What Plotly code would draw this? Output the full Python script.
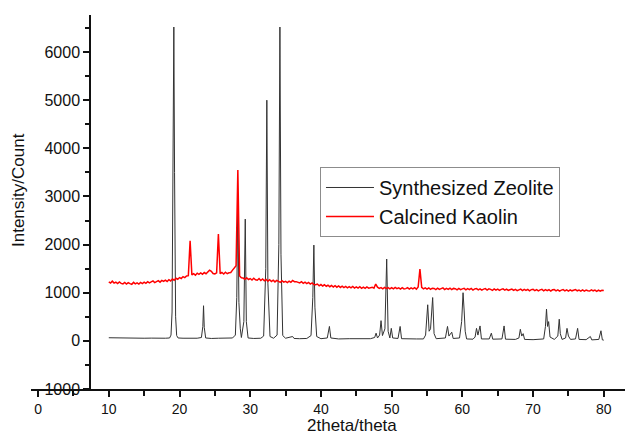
import plotly.graph_objects as go

# ---- Synthesized Zeolite (black) : 2theta and intensity ----
zeolite_x = [10.0, 11.0, 12.0, 13.0, 14.0, 15.0, 16.0, 17.0, 18.0, 18.6, 18.8, 18.95, 19.1, 19.2, 19.3, 19.45, 19.6, 19.8,
             20.5, 21.5, 22.5, 23.1, 23.3, 23.4, 23.5, 23.7, 24.5, 25.5, 26.5, 27.5, 27.9, 28.1, 28.25, 28.4, 28.6, 28.75,
             29.1, 29.3, 29.45, 29.7, 30.5, 31.5, 31.9, 32.2, 32.35, 32.5, 32.8, 33.3, 33.8, 34.05, 34.2, 34.35, 34.6,
             35.0, 36.0, 36.2, 37.0, 38.0, 38.6, 38.85, 39.0, 39.15, 39.4, 40.0, 40.9, 41.2, 41.4, 42.5, 44.0, 45.5,
             47.0, 47.6, 47.8, 48.0, 48.3, 48.5, 48.7, 49.05, 49.3, 49.5, 49.75, 49.95, 50.15, 50.9, 51.2, 51.4, 52.5,
             53.5, 54.5, 54.8, 55.1, 55.3, 55.5, 55.8, 56.0, 56.3, 57.6, 57.9, 58.1, 58.3, 58.5, 58.7, 59.6, 59.9, 60.1,
             60.25, 60.4, 60.6, 61.5, 61.8, 62.0, 62.2, 62.5, 62.7, 63.8, 64.1, 64.3, 65.6, 65.9, 66.1, 67.5, 68.0,
             68.2, 68.4, 68.6, 68.8, 70.0, 71.5, 71.75, 71.9, 72.05, 72.2, 72.4, 73.0, 73.5, 73.7, 73.85, 74.1, 74.6,
             74.8, 75.0, 75.3, 76.0, 76.3, 76.5, 77.5, 78.1, 78.3, 79.3, 79.6, 79.8, 80.0]
zeolite_y = [65, 60, 62, 58, 60, 55, 57, 52, 55, 60, 120, 600, 4000, 6520, 3500, 500, 110, 60,
             55, 50, 55, 70, 300, 730, 280, 60, 50, 55, 50, 60, 120, 900, 2950, 800, 250, 70,
             400, 2530, 400, 60, 50, 55, 100, 1500, 5000, 1200, 90, 55, 120, 2000, 6520, 1800, 110,
             55, 90, 50, 45, 50, 110, 900, 1990, 700, 90, 45, 60, 300, 60, 40, 45, 40,
             45, 70, 160, 60, 120, 420, 110, 250, 1700, 200, 60, 260, 60, 50, 300, 45, 35,
             40, 40, 120, 750, 200, 250, 900, 150, 45, 60, 300, 100, 130, 180, 50, 60, 400, 1000,
             640, 200, 40, 35, 80, 260, 120, 310, 40, 40, 160, 35, 40, 310, 35, 30, 60,
             240, 100, 150, 30, 25, 40, 300, 660, 300, 400, 80, 30, 100, 450, 150, 30, 60,
             260, 100, 30, 40, 260, 30, 25, 90, 20, 30, 210, 20, 15]

# ---- Calcined Kaolin (red) : scan from 10 to 80 deg, 0.25 deg steps ----
kaolin_start = 10.0
kaolin_step = 0.25
kaolin_y = [
    1225, 1200, 1240, 1200,  # 10
    1220, 1190, 1225, 1195,  # 11
    1185, 1215, 1180, 1210,  # 12
    1190, 1175, 1215, 1185,  # 13
    1205, 1180, 1215, 1190,  # 14
    1220, 1195, 1230, 1205,  # 15
    1225, 1245, 1210, 1240,  # 16
    1250, 1220, 1255, 1235,  # 17
    1260, 1235, 1270, 1245,  # 18
    1285, 1260, 1300, 1280,  # 19
    1315, 1295, 1335, 1315,  # 20
    1350, 1355, 2080, 1370,  # 21
    1395, 1365, 1405, 1380,  # 22
    1410, 1385, 1420, 1395,  # 23
    1425, 1470, 1445, 1400,  # 24
    1390, 1415, 2220, 1395,  # 25
    1420, 1390, 1425, 1395,  # 26
    1415, 1420, 1470, 1520,  # 27
    1560, 3550, 1350, 1310,  # 28
    1305, 1280, 1310, 1275,  # 29
    1295, 1265, 1300, 1270,  # 30
    1260, 1295, 1255, 1285,  # 31
    1250, 1275, 1240, 1270,  # 32
    1235, 1260, 1225, 1255,  # 33
    1240, 1215, 1250, 1220,  # 34
    1235, 1210, 1240, 1215,  # 35
    1255, 1230, 1230, 1210,  # 36
    1205, 1230, 1195, 1220,  # 37
    1190, 1215, 1180, 1205,  # 38
    1170, 1165, 1180, 1145,  # 39
    1170, 1140, 1165, 1135,  # 40
    1155, 1125, 1150, 1120,  # 41
    1145, 1115, 1140, 1110,  # 42
    1135, 1105, 1130, 1100,  # 43
    1125, 1100, 1130, 1095,  # 44
    1120, 1095, 1125, 1090,  # 45
    1115, 1090, 1120, 1095,  # 46
    1110, 1115, 1095, 1180,  # 47
    1115, 1090, 1105, 1080,  # 48
    1110, 1085, 1105, 1080,  # 49
    1105, 1080, 1110, 1085,  # 50
    1100, 1075, 1105, 1080,  # 51
    1085, 1105, 1075, 1100,  # 52
    1080, 1105, 1075, 1120,  # 53
    1490, 1110, 1080, 1100,  # 54
    1075, 1100, 1070, 1095,  # 55
    1090, 1065, 1095, 1070,  # 56
    1085, 1100, 1065, 1090,  # 57
    1070, 1095, 1065, 1090,  # 58
    1085, 1060, 1090, 1065,  # 59
    1080, 1090, 1060, 1085,  # 60
    1065, 1090, 1055, 1080,  # 61
    1085, 1060, 1080, 1055,  # 62
    1075, 1085, 1055, 1080,  # 63
    1070, 1050, 1080, 1055,  # 64
    1075, 1050, 1070, 1080,  # 65
    1055, 1075, 1050, 1070,  # 66
    1075, 1050, 1070, 1045,  # 67
    1065, 1075, 1045, 1070,  # 68
    1050, 1070, 1040, 1065,  # 69
    1070, 1045, 1065, 1040,  # 70
    1060, 1070, 1040, 1065,  # 71
    1045, 1065, 1035, 1060,  # 72
    1065, 1040, 1060, 1035,  # 73
    1055, 1065, 1040, 1060,  # 74
    1035, 1060, 1040, 1055,  # 75
    1065, 1040, 1055, 1035,  # 76
    1060, 1035, 1055, 1040,  # 77
    1035, 1060, 1040, 1055,  # 78
    1030, 1055, 1035, 1050,  # 79
    1045,                    # 80
]
kaolin_x = [kaolin_start + kaolin_step * i for i in range(len(kaolin_y))]

series_names = ["Synthesized Zeolite", "Calcined Kaolin"]
x_tickvals = [0, 10, 20, 30, 40, 50, 60, 70, 80]
y_tickvals = [-1000, 0, 1000, 2000, 3000, 4000, 5000, 6000]

FONT = "Liberation Sans, Arial, Helvetica, sans-serif"

fig = go.Figure()
fig.add_trace(go.Scatter(x=zeolite_x, y=zeolite_y, mode="lines", name=series_names[0],
                         line=dict(color="#333333", width=1)))
fig.add_trace(go.Scatter(x=kaolin_x, y=kaolin_y, mode="lines", name=series_names[1],
                         line=dict(color="#ff0000", width=1.5)))

fig.update_layout(
    width=625, height=437,
    margin=dict(l=31, r=0, t=15, b=48),
    plot_bgcolor="white", paper_bgcolor="white",
    font=dict(family=FONT, color="#111111"),
    showlegend=True,
    legend=dict(x=0.4865, y=0.5936, xanchor="left", yanchor="top",
                bordercolor="#8c8c8c", borderwidth=1, bgcolor="white",
                font=dict(size=20, family=FONT, color="#111111"),
                itemwidth=48, tracegroupgap=0),
    xaxis=dict(range=[-1, 83], showline=True, linecolor="#111111", linewidth=1.5,
               ticks="outside", ticklen=6, tickwidth=1.5, tickcolor="#111111",
               tickvals=x_tickvals, tickfont=dict(size=14),
               minor=dict(dtick=5, tick0=0, ticks="outside", ticklen=5, tickwidth=1.5, tickcolor="#111111"),
               showgrid=False, zeroline=False),
    yaxis=dict(range=[-1000, 6770], anchor="free", position=0.0993,
               showline=True, linecolor="#111111", linewidth=1.5,
               ticks="outside", ticklen=6, tickwidth=1.5, tickcolor="#111111",
               tickvals=y_tickvals, tickfont=dict(size=16),
               minor=dict(dtick=500, tick0=0, ticks="outside", ticklen=4, tickwidth=1.5, tickcolor="#111111"),
               showgrid=False, zeroline=False),
    annotations=[
        dict(text="Intensity/Count", xref="paper", yref="paper", x=-0.0219, y=0.532,
             textangle=-90, showarrow=False, font=dict(size=17, family=FONT, color="#111111"),
             xanchor="center", yanchor="middle"),
        dict(text="2theta/theta", xref="paper", yref="paper", x=0.540, y=-0.1283,
             showarrow=False, font=dict(size=17, family=FONT, color="#111111"),
             xanchor="center", yanchor="bottom"),
    ],
)

fig.write_html("out.html", config={"displayModeBar": False},
               post_script="document.body.style.margin='0';document.body.style.padding='0';")
